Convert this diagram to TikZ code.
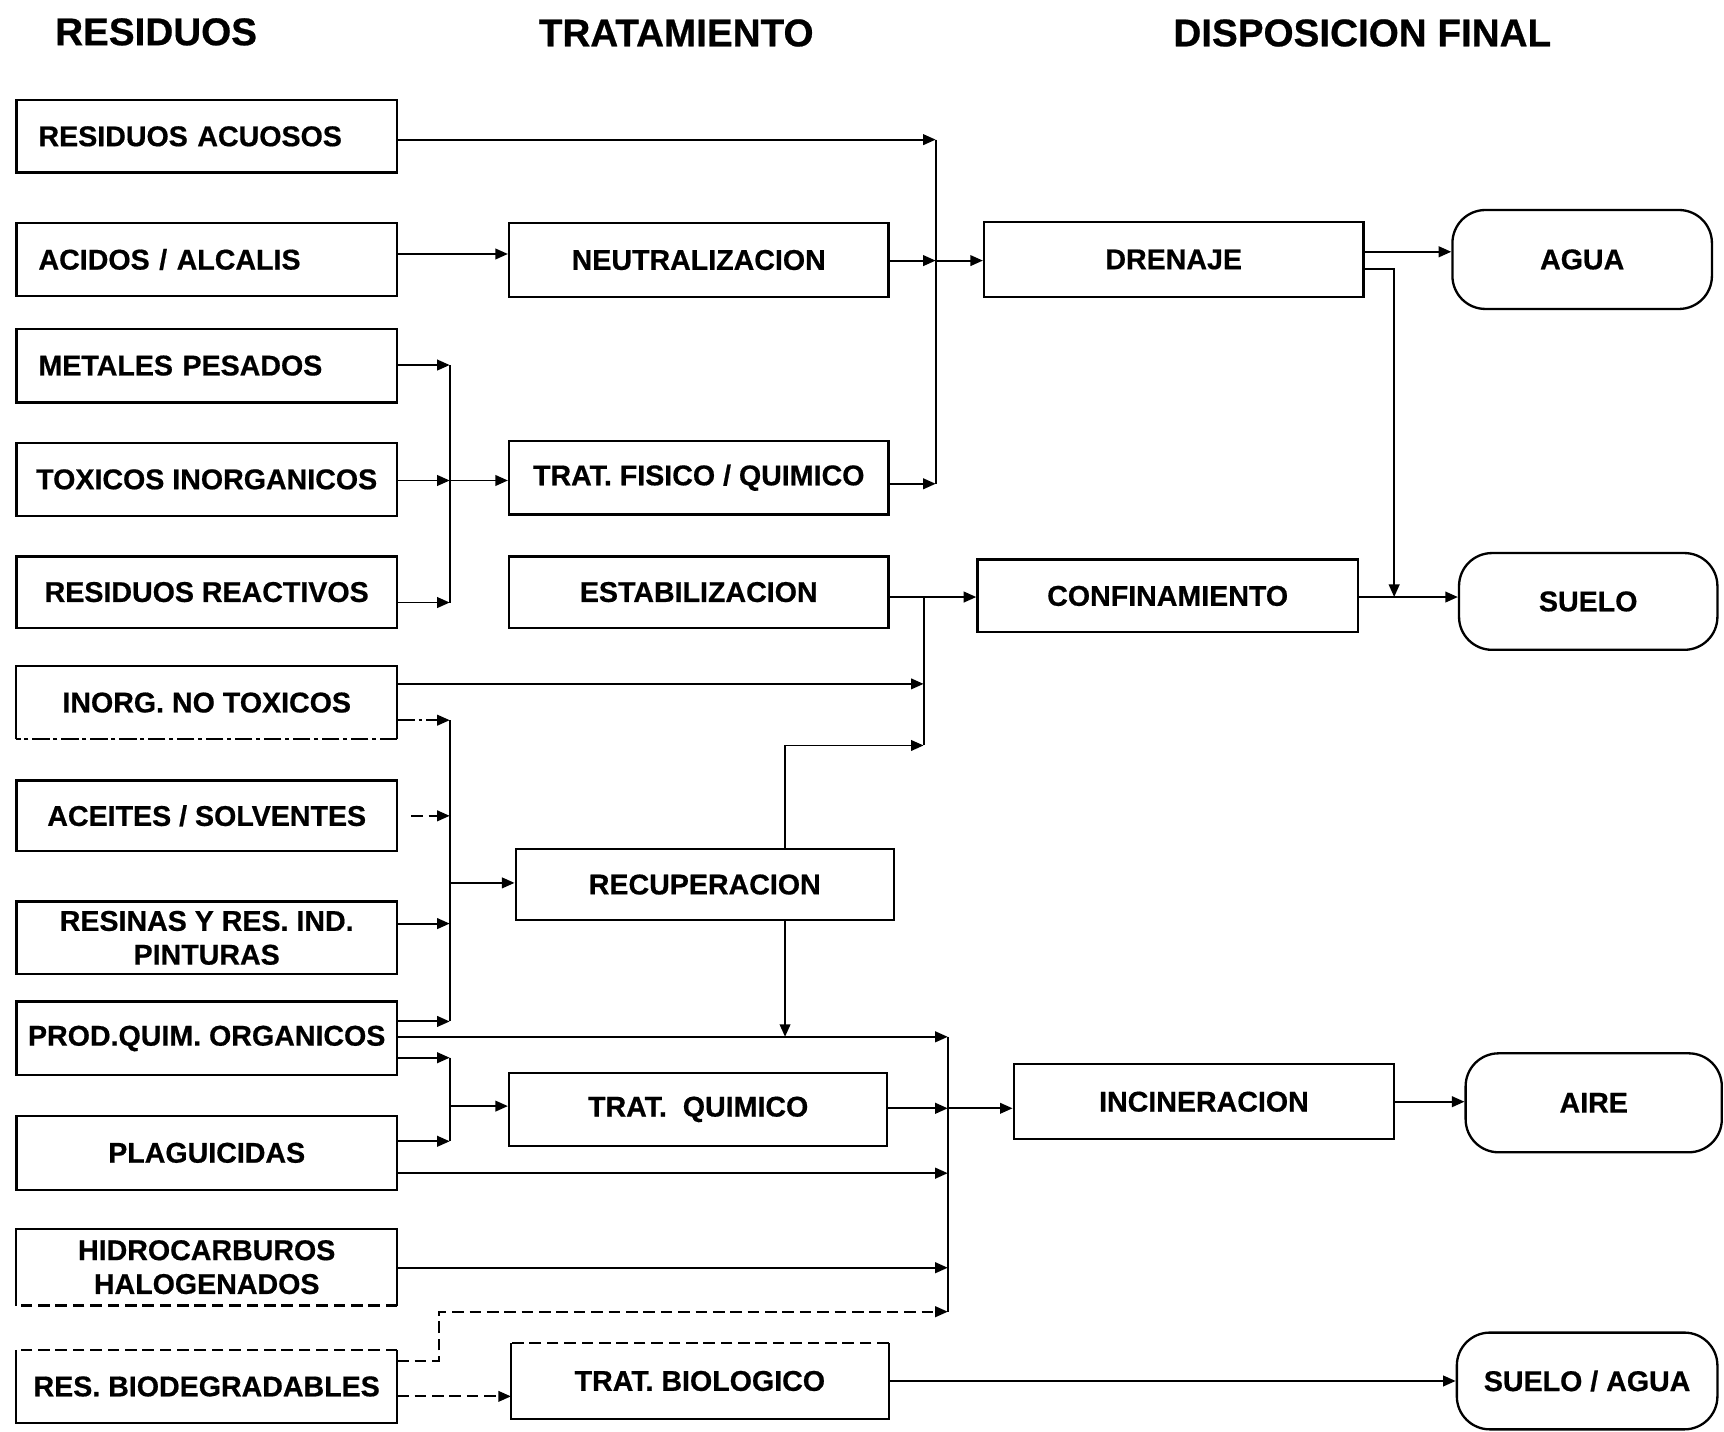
\documentclass[tikz,border=0pt]{standalone}
\usepackage{fontspec}
\setmainfont{Liberation Sans}[BoldFeatures={FakeBold=0.6}]
\usetikzlibrary{arrows.meta}
\begin{document}
\begin{tikzpicture}[x=0.02cm, y=0.02cm,
  every node/.style={font=\bfseries\fontsize{14.8}{17.5}\selectfont},
  sz/.style 2 args={minimum width=#1*0.02cm, minimum height=#2*0.02cm},
  wbox/.style={draw, line width=1.2pt, inner sep=0pt, align=center},
  obox/.style={draw=none, inner sep=0pt, align=center},
  lbox/.style={wbox, text width=6.12cm, align=left},
  fbox/.style={draw, line width=1.2pt, rounded corners=0.6cm, inner sep=0pt, align=center},
  head/.style={font=\bfseries\fontsize{20}{24}\selectfont},
  edge/.style={line width=1.2pt},
  wire/.style={line width=1pt},
  arr/.style={line width=1pt, -{Triangle[length=6.5pt,width=5.5pt]}},
  brk/.style={dash pattern=on 9pt off 2pt on 2pt off 2pt},
  sdash/.style={dash pattern=on 6pt off 3pt},
]
\useasboundingbox (0,0) rectangle (1568,-1302);

% column headings
\node[head] (hres)  at (142,-29)  {RESIDUOS};
\node[head] (htrat) at (615,-30)  {TRATAMIENTO};
\node[head] (hdisp) at (1239,-30) {DISPOSICION FINAL};

% waste streams
\node[lbox, sz={346}{66}] (acuosos)   at (188,-124)    {RESIDUOS ACUOSOS};
\node[lbox, sz={346}{66}] (acidos)    at (188,-236)    {ACIDOS / ALCALIS};
\node[lbox, sz={346}{67}] (metales)   at (188,-332.5)  {METALES PESADOS};
\node[wbox, sz={346}{66}] (toxicos)   at (188,-436)    {TOXICOS INORGANICOS};
\node[wbox, sz={346}{65}] (reactivos) at (188,-538.5)  {RESIDUOS REACTIVOS};
\node[obox, sz={346}{66}] (inorg)     at (188,-639)    {INORG. NO TOXICOS};
\node[wbox, sz={346}{64}] (aceites)   at (188,-742)    {ACEITES / SOLVENTES};
\node[wbox, sz={346}{66}] (resinas)   at (188,-853)    {RESINAS Y RES. IND.\\PINTURAS};
\node[wbox, sz={346}{67}] (prodquim)  at (188,-944.5)  {PROD.QUIM. ORGANICOS};
\node[wbox, sz={346}{67}] (plag)      at (188,-1048.5) {PLAGUICIDAS};
\node[obox, sz={346}{69}] (hidro)     at (188,-1152.5) {HIDROCARBUROS\\HALOGENADOS};
\node[obox, sz={346}{66}] (biodeg)    at (188,-1261)   {RES. BIODEGRADABLES};

% boxes with broken edges
\draw[edge] (inorg.south west) -- (inorg.north west) -- (inorg.north east) -- (inorg.south east);
\draw[edge, brk] (inorg.south east) -- (inorg.south west);
\draw[edge] (hidro.south west) -- (hidro.north west) -- (hidro.north east) -- (hidro.south east);
\draw[edge, sdash] (hidro.south east) -- (hidro.south west);
\draw[edge] (biodeg.north west) -- (biodeg.south west) -- (biodeg.south east) -- (biodeg.north east);
\draw[edge, sdash] (biodeg.north east) -- (biodeg.north west);

% treatments
\node[wbox, sz={345}{67}] (neutral) at (635.5,-236.5) {NEUTRALIZACION};
\node[wbox, sz={345}{67}] (fisico)  at (635.5,-434.5) {TRAT. FISICO / QUIMICO};
\node[wbox, sz={345}{65}] (estab)   at (635.5,-538.5) {ESTABILIZACION};
\node[wbox, sz={344}{65}] (recup)   at (641,-804.5)   {RECUPERACION};
\node[wbox, sz={344}{66}] (quimico) at (635,-1009)    {TRAT.\ \ QUIMICO};
\node[obox, sz={343}{68}] (biol)    at (636.5,-1256)  {TRAT. BIOLOGICO};
\draw[edge] (biol.north west) -- (biol.south west) -- (biol.south east) -- (biol.north east);
\draw[edge, sdash] (biol.north east) -- (biol.north west);

% final disposal routes
\node[wbox, sz={345}{68}] (drenaje) at (1067.5,-236) {DRENAJE};
\node[wbox, sz={346}{66}] (confin)  at (1062,-542)   {CONFINAMIENTO};
\node[wbox, sz={346}{68}] (incin)   at (1095,-1002)  {INCINERACION};

% receiving media
\node[fbox, sz={236}{90}] (agua)      at (1439,-236)    {AGUA};
\node[fbox, sz={235}{88}] (suelo)     at (1444.5,-547)  {SUELO};
\node[fbox, sz={233}{90}] (aire)      at (1449.5,-1003) {AIRE};
\node[fbox, sz={237}{88}] (sueloagua) at (1443.5,-1256) {SUELO / AGUA};

% collector into DRENAJE
\coordinate (b1top) at (851,-127);
\coordinate (b1n)   at (851,-237);
\coordinate (b1bot) at (851,-440);
\draw[wire] (b1top) -- (b1bot);
\draw[arr] (acuosos.east |- b1top) -- (b1top);
\draw[arr] (neutral.east |- b1n) -- (b1n);
\draw[arr] (fisico.east |- b1bot) -- (b1bot);
\draw[arr] (b1n) -- (b1n -| drenaje.west);
\draw[arr] ([yshift=0.1cm]acidos.east) -- ([yshift=0.1cm]acidos.east -| neutral.west);

% collector into TRAT. FISICO / QUIMICO
\coordinate (b2top) at (409,-332);
\coordinate (b2mid) at (409,-437);
\coordinate (b2bot) at (409,-548);
\draw[wire] (b2top) -- (b2bot);
\draw[arr] (metales.east |- b2top) -- (b2top);
\draw[arr] (toxicos.east |- b2mid) -- (b2mid);
\draw[arr] (reactivos.east |- b2bot) -- (b2bot);
\draw[arr] (b2mid) -- (b2mid -| fisico.west);

% collector into CONFINAMIENTO
\coordinate (b3top) at (840,-543);
\coordinate (b3a)   at (840,-622);
\coordinate (b3bot) at (840,-678);
\coordinate (rk)    at (714,-678);
\draw[wire] (b3top) -- (b3bot);
\draw[arr] (estab.east |- b3top) -- (b3top -| confin.west);
\draw[arr] (inorg.east |- b3a) -- (b3a);
\draw[arr] (recup.north -| rk) -- (rk) -- (b3bot);

% collector into RECUPERACION
\coordinate (b4top) at (409,-655);
\coordinate (b4b)   at (409,-742);
\coordinate (b4out) at (409,-803);
\coordinate (b4c)   at (409,-840);
\coordinate (b4bot) at (409,-929);
\draw[wire] (b4top) -- (b4bot);
\draw[arr, brk] (inorg.east |- b4top) -- (b4top);
\draw[arr, sdash] ([xshift=0.24cm]aceites.east |- b4b) -- (b4b);
\draw[arr] (resinas.east |- b4c) -- (b4c);
\draw[arr] (prodquim.east |- b4bot) -- (b4bot);
\draw[arr] (b4out) -- (b4out -| recup.west);

% collector into INCINERACION
\coordinate (b5top) at (862,-943);
\coordinate (b5q)   at (862,-1008);
\coordinate (b5p)   at (862,-1067);
\coordinate (b5h)   at (862,-1153);
\coordinate (b5bot) at (862,-1193);
\coordinate (bk)    at (399,-1238);
\draw[wire] (b5top) -- (b5bot);
\draw[arr] (recup.south -| rk) -- (rk |- b5top);
\draw[arr] (prodquim.east |- b5top) -- (b5top);
\draw[arr] (quimico.east |- b5q) -- (b5q);
\draw[arr] (b5q) -- (b5q -| incin.west);
\draw[arr] (plag.east |- b5p) -- (b5p);
\draw[arr] (hidro.east |- b5h) -- (b5h);
\draw[arr, sdash] (biodeg.east |- bk) -- (bk) |- (b5bot);

% collector into TRAT. QUIMICO
\coordinate (b6top) at (409,-962);
\coordinate (b6mid) at (409,-1006);
\coordinate (b6bot) at (409,-1038);
\draw[wire] (b6top) -- (b6bot);
\draw[arr] (prodquim.east |- b6top) -- (b6top);
\draw[arr] (plag.east |- b6bot) -- (b6bot);
\draw[arr] (b6mid) -- (b6mid -| quimico.west);

% biological route
\draw[arr, sdash] ([yshift=-0.18cm]biodeg.east) -- ([yshift=-0.18cm]biodeg.east -| biol.west);
\draw[arr] (biol.east) -- (biol.east -| sueloagua.west);

% outlets to the media
\coordinate (dk) at (1268,-543);
\draw[arr] (incin.east) -- (incin.east -| aire.west);
\draw[arr] ([yshift=0.14cm]drenaje.east) -- ([yshift=0.14cm]drenaje.east -| agua.west);
\draw[arr] ([yshift=-0.18cm]drenaje.east) -| (dk);
\draw[arr] (confin.east |- dk) -- (dk -| suelo.west);
\end{tikzpicture}
\end{document}
